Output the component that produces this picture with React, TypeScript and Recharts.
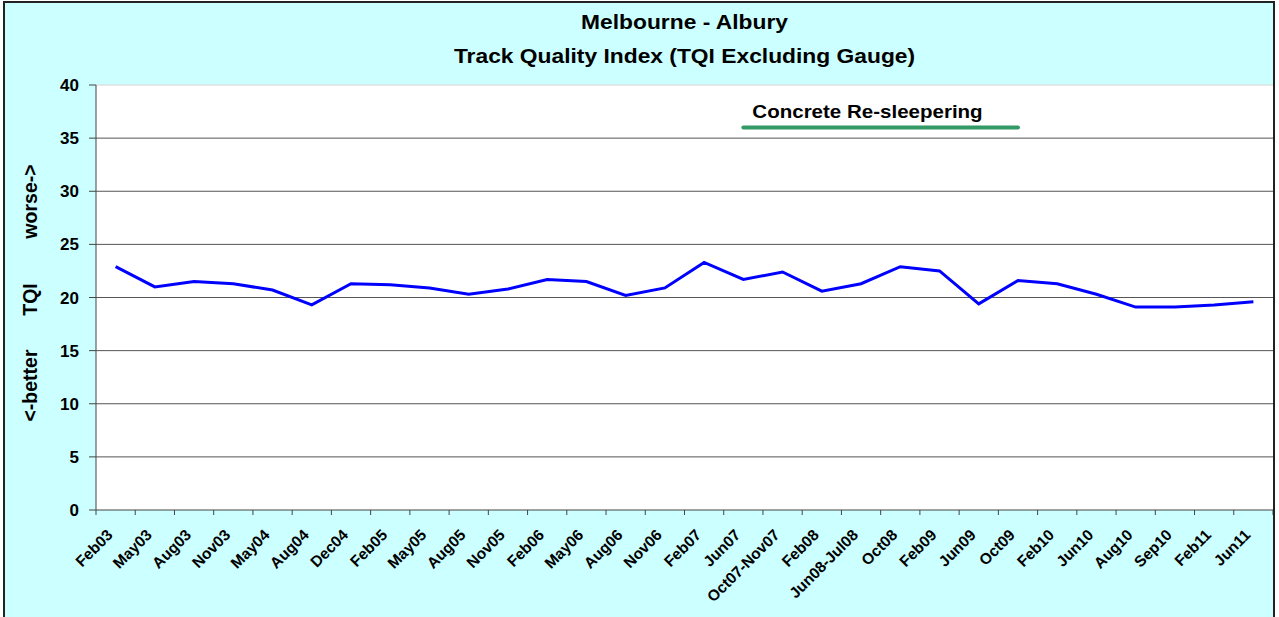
import React from "react";
import {
  LineChart,
  Line,
  XAxis,
  YAxis,
  CartesianGrid,
  ReferenceLine,
} from "recharts";

const months = [
  "Feb03", "May03", "Aug03", "Nov03", "May04", "Aug04", "Dec04", "Feb05",
  "May05", "Aug05", "Nov05", "Feb06", "May06", "Aug06", "Nov06", "Feb07",
  "Jun07", "Oct07-Nov07", "Feb08", "Jun08-Jul08", "Oct08", "Feb09", "Jun09",
  "Oct09", "Feb10", "Jun10", "Aug10", "Sep10", "Feb11", "Jun11",
];

const tqi = [
  22.9, 21.0, 21.5, 21.3, 20.7, 19.3, 21.3, 21.2, 20.9, 20.3, 20.8, 21.7,
  21.5, 20.2, 20.9, 23.3, 21.7, 22.4, 20.6, 21.3, 22.9, 22.5, 19.4, 21.6,
  21.3, 20.3, 19.1, 19.1, 19.3, 19.6,
];

// concrete re-sleepering period (Jun07 .. Oct09)
const resleeper = [
  null, null, null, null, null, null, null, null, null, null, null, null,
  null, null, null, null, 36, 36, 36, 36, 36, 36, 36, 36,
  null, null, null, null, null, null,
];

const yTicks = [0, 5, 10, 15, 20, 25, 30, 35, 40];
const gridLines = [5, 10, 15, 20, 25, 30, 35];

const data = months.map((m, i) => ({
  month: m,
  tqi: tqi[i],
  works: resleeper[i],
}));

const W = 1279;
const H = 617;
const LEFT = 96;
const RIGHT = 6;
const BAND = (W - LEFT - RIGHT) / months.length;
const FONT = "'Liberation Sans', Arial, sans-serif";
const STRETCH = 1.14; // the original text is a bit wide

const XTick = (props: any) => {
  const { x, y, payload, index } = props;
  const half = BAND / 2;
  const tx = x - 2;
  const ty = y + 26;
  return (
    <g>
      <line x1={x - half} x2={x - half} y1={y} y2={y + 5} stroke="#444" />
      {index === months.length - 1 && (
        <line x1={x + half} x2={x + half} y1={y} y2={y + 5} stroke="#444" />
      )}
      <text
        x={tx}
        y={ty}
        transform={`rotate(-45, ${tx}, ${ty})`}
        textAnchor="end"
        fontFamily={FONT}
        fontWeight="bold"
        fontSize={15.5}
        fill="#000"
      >
        {payload.value}
      </text>
    </g>
  );
};

const YTitle = (props: any) => {
  const { viewBox } = props;
  const cx = 30;
  const cy = viewBox.y + viewBox.height / 2;
  const parts = [
    { t: "worse->", dy: -96 },
    { t: "TQI", dy: 2 },
    { t: "<-better", dy: 88 },
  ];
  return (
    <g>
      {parts.map((p) => (
        <text
          key={p.t}
          x={cx}
          y={cy + p.dy}
          transform={`rotate(-90, ${cx}, ${cy + p.dy})`}
          textAnchor="middle"
          dominantBaseline="central"
          fontFamily={FONT}
          fontWeight="bold"
          fontSize={19.5}
          fill="#000"
        >
          {p.t}
        </text>
      ))}
    </g>
  );
};

const WorksLabel = (props: any) => {
  const { x, y, index } = props;
  if (index !== 16) return null;
  const tx = x + 9;
  return (
    <text
      x={tx}
      y={y - 9}
      transform={`matrix(${STRETCH} 0 0 1 ${-(STRETCH - 1) * tx} 0)`}
      fontFamily={FONT}
      fontWeight="bold"
      fontSize={18}
      fill="#000"
    >
      Concrete Re-sleepering
    </text>
  );
};

export default function App() {
  return (
    <div
      style={{
        position: "absolute",
        left: 0,
        top: 0,
        width: W,
        height: H,
        overflow: "hidden",
        background: "#fff",
      }}
    >
      <div
        style={{
          position: "absolute",
          left: 3,
          top: 1,
          width: 1271,
          height: 640,
          background: "#CCFFFF",
        }}
      />
      <div
        style={{
          position: "absolute",
          left: LEFT,
          top: 0,
          width: W - LEFT - RIGHT,
          textAlign: "center",
          fontFamily: FONT,
          fontWeight: "bold",
          fontSize: 20,
          lineHeight: "34px",
          paddingTop: 5,
          color: "#000",
          transform: `scaleX(${STRETCH})`,
          transformOrigin: "center",
          whiteSpace: "nowrap",
        }}
      >
        <div>Melbourne - Albury</div>
        <div>Track Quality Index (TQI Excluding Gauge)</div>
      </div>
      <LineChart
        width={W}
        height={H}
        data={data}
        margin={{ top: 85, right: RIGHT, bottom: 0, left: 0 }}
        style={{ position: "absolute", left: 0, top: 0 }}
      >
        <CartesianGrid
          fill="#fff"
          vertical={false}
          horizontalValues={gridLines}
          stroke="#555"
          strokeOpacity={1}
        />
        <ReferenceLine y={40} stroke="#d4d4d4" />
        <XAxis
          dataKey="month"
          interval={0}
          height={H - 510}
          tickLine={false}
          tickSize={0}
          tickMargin={0}
          axisLine={{ stroke: "#444" }}
          padding={{ left: BAND / 2, right: BAND / 2 }}
          tick={<XTick />}
        />
        <YAxis
          width={LEFT}
          domain={[0, 40]}
          ticks={yTicks}
          interval={0}
          tickSize={7}
          tickMargin={10}
          axisLine={{ stroke: "#444" }}
          tickLine={{ stroke: "#444" }}
          tick={{
            fontFamily: FONT,
            fontWeight: "bold",
            fontSize: 17,
            fill: "#000",
          }}
          label={<YTitle />}
        />
        <Line
          dataKey="tqi"
          stroke="#0000FF"
          strokeWidth={3}
          dot={false}
          isAnimationActive={false}
        />
        <Line
          dataKey="works"
          stroke="#339966"
          strokeWidth={4}
          strokeLinecap="round"
          dot={false}
          label={<WorksLabel />}
          isAnimationActive={false}
        />
      </LineChart>
      <div
        style={{
          position: "absolute",
          left: 3,
          top: 1,
          width: 1272,
          height: 640,
          boxSizing: "border-box",
          border: "2px solid #222",
          pointerEvents: "none",
        }}
      />
    </div>
  );
}
